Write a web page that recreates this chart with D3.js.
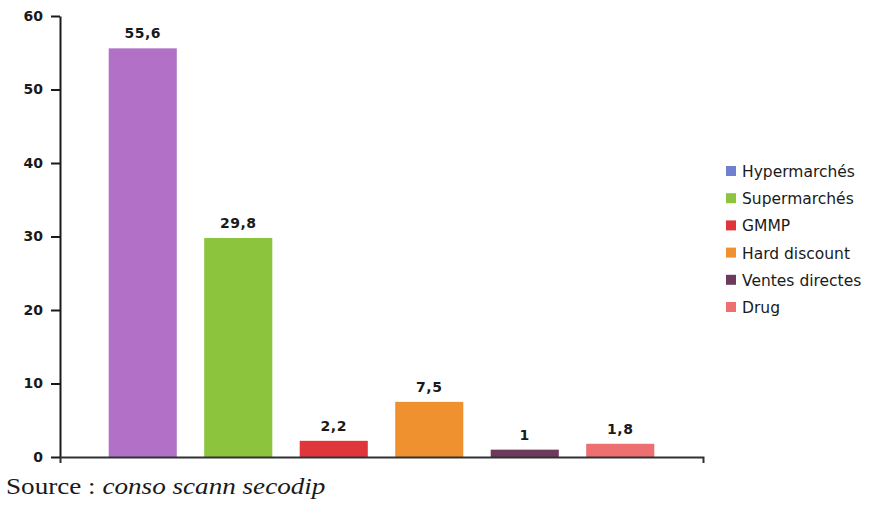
<!DOCTYPE html>
<html>
<head>
<meta charset="utf-8">
<script src="https://cdn.jsdelivr.net/npm/d3@7"></script>
<style>
  body { margin: 0; background: #fff; }
  svg { display: block; }
</style>
</head>
<body>
<div id="chart"></div>
<script>
// data
const categories = ["Hypermarchés", "Supermarchés", "GMMP", "Hard discount", "Ventes directes", "Drug"];
const values = [55.6, 29.8, 2.2, 7.5, 1, 1.8];
const valueLabels = ["55,6", "29,8", "2,2", "7,5", "1", "1,8"];
const barColors = ["#b271c6", "#8cc43e", "#e1353c", "#f0912f", "#6e3a5c", "#ed6f6f"];
const legendColors = ["#7080cf", "#8cc43e", "#e1353c", "#f0912f", "#6e3a5c", "#ed6f6f"];
const yTicks = [0, 10, 20, 30, 40, 50, 60];

const width = 871, height = 505;

let svg = d3.select("#chart").append("svg")
  .attr("width", width)
  .attr("height", height);

let x = d3.scaleBand()
  .domain(categories)
  .range([60, 703])
  .paddingInner(0.287)
  .paddingOuter(0.51);

let y = d3.scaleLinear()
  .domain([0, 60])
  .range([457, 16]);

// bars
svg.selectAll("rect.bar")
  .data(values)
  .enter()
  .append("rect")
  .attr("class", "bar")
  .attr("x", function (d, i) { return x(categories[i]); })
  .attr("y", function (d) { return y(d); })
  .attr("width", x.bandwidth())
  .attr("height", function (d) { return y(0) - y(d); })
  .style("fill", function (d, i) { return barColors[i]; });

// value labels
svg.selectAll("text.val")
  .data(values)
  .enter()
  .append("text")
  .attr("class", "val")
  .attr("x", function (d, i) { return x(categories[i]) + x.bandwidth() / 2; })
  .attr("y", function (d) { return y(d) - 10; })
  .attr("text-anchor", "middle")
  .style("font-family", "DejaVu Sans")
  .style("font-weight", "bold")
  .style("font-size", "14px")
  .style("letter-spacing", "0.5px")
  .style("fill", "#1a1a1a")
  .text(function (d, i) { return valueLabels[i]; });

// y axis
let yAxis = svg.append("g")
  .attr("transform", "translate(60,0)")
  .call(d3.axisLeft(y).tickValues(yTicks).tickSize(9).tickSizeOuter(0).tickPadding(8));
yAxis.select(".domain").attr("stroke", "#1a1a1a").attr("stroke-width", 2);
yAxis.selectAll(".tick line").attr("stroke", "#1a1a1a").attr("stroke-width", 2);
yAxis.selectAll(".tick text")
  .style("font-family", "DejaVu Sans")
  .style("font-weight", "bold")
  .style("font-size", "14px")
  .style("fill", "#1a1a1a");

// baseline
let xAxis = svg.append("g")
  .attr("transform", "translate(0," + y(0) + ")")
  .call(d3.axisBottom(x).tickValues([]).tickSizeOuter(6));
xAxis.select(".domain").attr("stroke", "#2e3236").attr("stroke-width", 2);

// legend
let legend = svg.append("g").attr("transform", "translate(726,0)");
let rows = legend.selectAll("g")
  .data(categories)
  .enter()
  .append("g")
  .attr("transform", function (d, i) { return "translate(0," + (171 + i * 27.2) + ")"; });
rows.append("rect")
  .attr("x", 0)
  .attr("y", -5)
  .attr("width", 10)
  .attr("height", 10)
  .style("fill", function (d, i) { return legendColors[i]; });
rows.append("text")
  .attr("x", 16)
  .attr("y", 6)
  .style("font-family", "DejaVu Sans")
  .style("font-size", "15.5px")
  .style("fill", "#1a1a1a")
  .text(function (d) { return d; });

// source note
let src = svg.append("text")
  .attr("transform", "translate(6,494) scale(1.18,1)")
  .style("font-family", "Liberation Serif")
  .style("font-size", "23px")
  .style("fill", "#1a1a1a");
src.append("tspan").text("Source : ");
src.append("tspan").style("font-style", "italic").text("conso scann secodip");
</script>
</body>
</html>
